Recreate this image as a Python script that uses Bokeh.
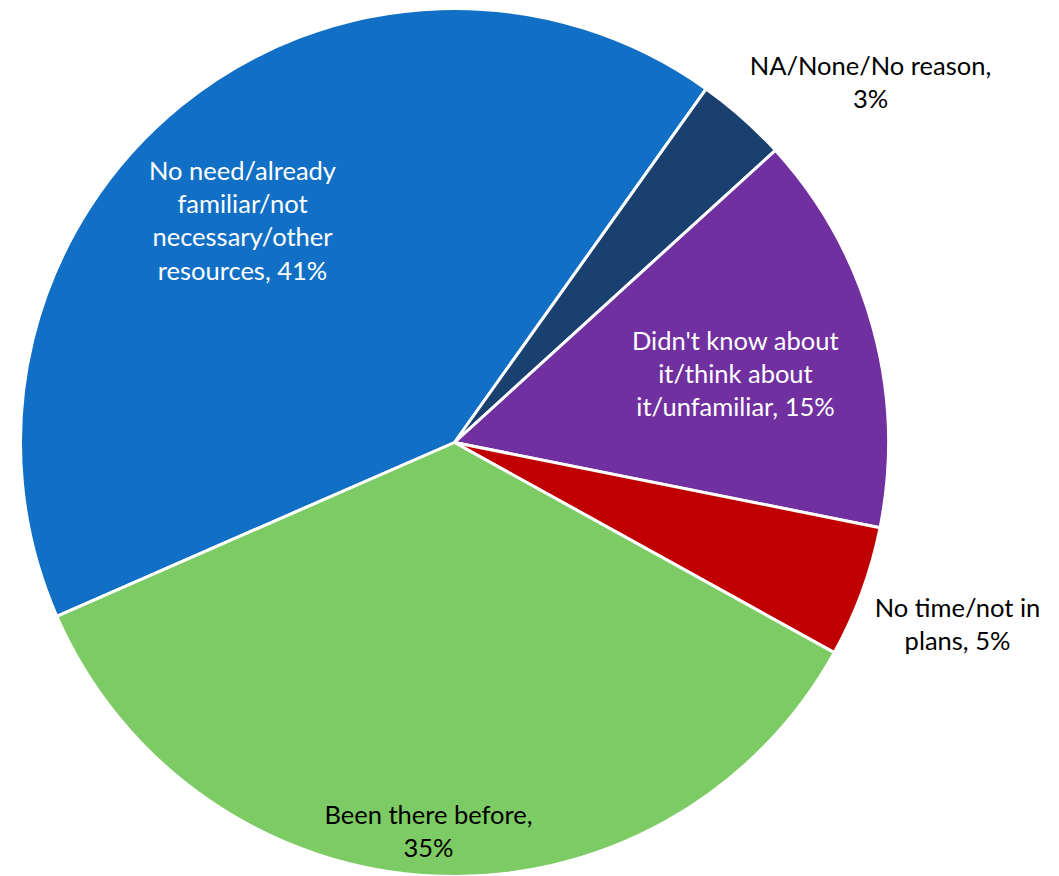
import math
from bokeh.plotting import figure
from bokeh.models import Range1d, ColumnDataSource
from bokeh.core.properties import value
from bokeh.embed import file_html
from bokeh.resources import INLINE

# ---- data ----
categories = [
    "No need/already\nfamiliar/not\nnecessary/other\nresources",
    "NA/None/No reason",
    "Didn't know about\nit/think about\nit/unfamiliar",
    "No time/not in\nplans",
    "Been there before",
]
shares = [41.4, 3.4, 14.9, 4.9, 35.4]
colors = ["#1170C6", "#1A4070", "#7030A0", "#C00000", "#7DCB64"]

# ---- layout ----
W, H = 1059, 876
cx, cy, R = 454, -442, 434          # page-pixel coordinates (y negated)
first_start_cw = -113.6              # clockwise degrees from 12 o'clock
separators = [", ", ",\n", ", ", ", ", ",\n"]
label_xy = [(242, -219), (870, -81), (735, -372.5), (957, -623), (428, -830)]
label_colors = ["white", "black", "white", "black", "black"]
FS = 25.5

total = sum(shares)
starts, ends = [], []
acc = first_start_cw
for s in shares:
    a0 = acc
    a1 = acc + s / total * 360.0
    acc = a1
    starts.append(math.radians(90.0 - a1))
    ends.append(math.radians(90.0 - a0))

src = ColumnDataSource(dict(
    x=[cx] * len(shares), y=[cy] * len(shares),
    start=starts, end=ends, color=colors,
))

p = figure(width=W, height=H, output_backend="svg", toolbar_location=None,
           x_range=Range1d(0, W), y_range=Range1d(-H, 0),
           min_border=0, outline_line_color=None)
p.axis.visible = False
p.grid.visible = False
p.background_fill_color = "white"
p.border_fill_color = "white"

p.wedge(x="x", y="y", radius=R, start_angle="start", end_angle="end",
        fill_color="color", line_color="white",
        line_width=3, source=src)

labels = [c + sep + f"{round(v)}%" for c, sep, v in zip(categories, separators, shares)]
lsrc = ColumnDataSource(dict(
    x=[xy[0] for xy in label_xy], y=[xy[1] for xy in label_xy],
    text=labels, color=label_colors,
))
p.text(x="x", y="y", text="text", text_color="color", source=lsrc,
       text_font=value("Lato"), text_font_size=f"{FS}px",
       text_align="center", text_baseline="middle",
       text_line_height=34 / (FS * 1.2))

open("out.html", "w").write(file_html(p, INLINE))
